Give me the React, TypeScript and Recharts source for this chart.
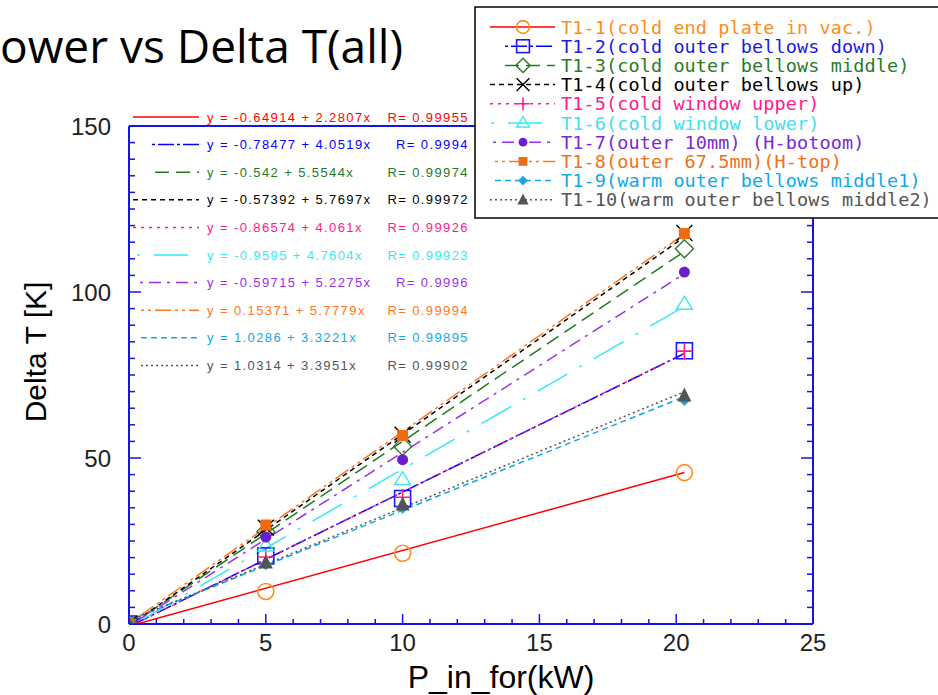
import React from "react";
import { ComposedChart, Line, Scatter, XAxis, YAxis } from "recharts";

// input power (kW) where each temperature was measured
const powerKW = [0, 5, 10, 20.3];

const seriesNames = [
  "T1-1(cold end plate in vac.)",
  "T1-2(cold outer bellows down)",
  "T1-3(cold outer bellows middle)",
  "T1-4(cold outer bellows up)",
  "T1-5(cold window upper)",
  "T1-6(cold window lower)",
  "T1-7(outer 10mm) (H-botoom)",
  "T1-8(outer 67.5mm)(H-top)",
  "T1-9(warm outer bellows middle1)",
  "T1-10(warm outer bellows middle2)",
];

// Delta T [K] per sensor, same order as powerKW
const t1_1 = [0, 9.8, 21.3, 45.6];
const t1_2 = [0, 20.5, 37.8, 82.3];
const t1_3 = [0, 27.8, 53.5, 113];
const t1_4 = [0, 29, 57, 117.8];
const t1_5 = [0, 20.2, 38.2, 82.2];
const t1_6 = [0, 23.5, 43.5, 96.3];
const t1_7 = [0, 26.2, 49.5, 106];
const t1_8 = [0, 29.8, 56.8, 117.6];
const t1_9 = [0, 18, 35, 67.5];
const t1_10 = [0, 18.5, 36, 68.8];
const seriesValues = [t1_1, t1_2, t1_3, t1_4, t1_5, t1_6, t1_7, t1_8, t1_9, t1_10];

// linear fits printed on the plot: y = a + b x
const fitIntercepts = [-0.64914, -0.78477, -0.542, -0.57392, -0.86574, -0.9595, -0.59715, 0.15371, 1.0286, 1.0314];
const fitSlopes = [2.2807, 4.0519, 5.5544, 5.7697, 4.061, 4.7604, 5.2275, 5.7779, 3.3221, 3.3951];
const fitR = ["0.99955", "0.9994", "0.99974", "0.99972", "0.99926", "0.99923", "0.9996", "0.99994", "0.99895", "0.99902"];

const xTicks = [0, 1, 2, 3, 4, 5, 6, 7, 8, 9, 10, 11, 12, 13, 14, 15, 16, 17, 18, 19, 20, 21, 22, 23, 24, 25];
const xTickLabels = [0, 5, 10, 15, 20, 25];
const yTicks = [0, 5, 10, 15, 20, 25, 30, 35, 40, 45, 50, 55, 60, 65, 70, 75, 80, 85, 90, 95, 100, 105, 110, 115, 120, 125, 130, 135, 140, 145, 150];
const yTickLabels = [0, 50, 100, 150];

type Style = { line: string; text: string; mark: string; dash?: string; kind: string; eqFrom: number; lgFrom: number };
const styles: Style[] = [
  { line: "#ff0000", text: "#ff8c1a", mark: "#ff8c1a", kind: "circle", eqFrom: 133, lgFrom: 490 },
  { line: "#0000ff", text: "#1a1ae6", mark: "#1a1aff", dash: "3 3 16 3", kind: "square", eqFrom: 152, lgFrom: 505 },
  { line: "#1e7b1e", text: "#2a7a2a", mark: "#2a7a2a", dash: "14 7", kind: "diamond", eqFrom: 155, lgFrom: 505 },
  { line: "#000000", text: "#000000", mark: "#000000", dash: "5 4", kind: "cross", eqFrom: 133, lgFrom: 490 },
  { line: "#ff1a8c", text: "#ff1a8c", mark: "#ff1a8c", dash: "3 5", kind: "plus", eqFrom: 133, lgFrom: 490 },
  { line: "#33e8f8", text: "#40e0f0", mark: "#40e6f6", dash: "3 14 34 14", kind: "triangle", eqFrom: 137, lgFrom: 491 },
  { line: "#9b30e8", text: "#7a28d8", mark: "#6a1ed0", dash: "3 6 12 6", kind: "dot", eqFrom: 140, lgFrom: 493 },
  { line: "#ff7722", text: "#f07020", mark: "#f06a10", dash: "3 4 3 4 16 4", kind: "block", eqFrom: 141, lgFrom: 495 },
  { line: "#10a8e8", text: "#10a8e8", mark: "#1aa3e8", dash: "6 4", kind: "gem", eqFrom: 141, lgFrom: 495 },
  { line: "#555555", text: "#555555", mark: "#555555", dash: "2 3", kind: "wedge", eqFrom: 141, lgFrom: 490 },
];

const AXIS = "#1414e6";
const FONT = "'Liberation Sans', Arial, sans-serif";

function Marker({ kind, color, cx, cy, s = 1 }: { kind: string; color: string; cx: number; cy: number; s?: number }) {
  const k = (v: number) => v * s;
  switch (kind) {
    case "circle":
      return <circle cx={cx} cy={cy} r={k(8)} fill="none" stroke={color} strokeWidth={1.6} />;
    case "square":
      return <rect x={cx - k(8)} y={cy - k(8)} width={k(16)} height={k(16)} fill="none" stroke={color} strokeWidth={1.6} />;
    case "diamond":
      return (
        <polygon
          points={`${cx},${cy - k(9)} ${cx + k(9)},${cy} ${cx},${cy + k(9)} ${cx - k(9)},${cy}`}
          fill="none"
          stroke={color}
          strokeWidth={1.4}
        />
      );
    case "cross":
      return (
        <path d={`M${cx - k(8)},${cy - k(8)}L${cx + k(8)},${cy + k(8)}M${cx - k(8)},${cy + k(8)}L${cx + k(8)},${cy - k(8)}`} stroke={color} strokeWidth={1.4} />
      );
    case "plus":
      return <path d={`M${cx - k(8)},${cy}L${cx + k(8)},${cy}M${cx},${cy - k(8)}L${cx},${cy + k(8)}`} stroke={color} strokeWidth={1.6} />;
    case "triangle":
      return (
        <polygon
          points={`${cx},${cy - k(8)} ${cx + k(8)},${cy + k(5)} ${cx - k(8)},${cy + k(5)}`}
          fill="none"
          stroke={color}
          strokeWidth={1.4}
        />
      );
    case "dot":
      return <circle cx={cx} cy={cy} r={k(5.5)} fill={color} />;
    case "block":
      return <rect x={cx - k(5.5)} y={cy - k(5.5)} width={k(11)} height={k(11)} fill={color} />;
    case "gem":
      return <polygon points={`${cx},${cy - k(6)} ${cx + k(6)},${cy} ${cx},${cy + k(6)} ${cx - k(6)},${cy}`} fill={color} />;
    default:
      return <polygon points={`${cx},${cy - k(8)} ${cx + k(7)},${cy + k(6)} ${cx - k(7)},${cy + k(6)}`} fill={color} />;
  }
}

const BottomTick = (props: any) => {
  const { x, y, payload } = props;
  const major = xTickLabels.includes(payload.value);
  return (
    <g>
      <line x1={x} x2={x} y1={y} y2={y - (major ? 10 : 5)} stroke={AXIS} strokeWidth={1.5} />
      {major && (
        <text x={x} y={y + 27} textAnchor="middle" fontSize={24} fontFamily={FONT} fill="#222">
          {payload.value}
        </text>
      )}
    </g>
  );
};

const TopTick = (props: any) => {
  const { x, y, payload } = props;
  const major = xTickLabels.includes(payload.value);
  return <line x1={x} x2={x} y1={y} y2={y + (major ? 10 : 5)} stroke={AXIS} strokeWidth={1.5} />;
};

const LeftTick = (props: any) => {
  const { x, y, payload } = props;
  const major = yTickLabels.includes(payload.value);
  return (
    <g>
      <line x1={x} x2={x + (major ? 12 : 6)} y1={y} y2={y} stroke={AXIS} strokeWidth={1.5} />
      {major && (
        <text x={x - 18} y={y + 8.5} textAnchor="end" fontSize={24} fontFamily={FONT} fill="#222">
          {payload.value}
        </text>
      )}
    </g>
  );
};

const RightTick = (props: any) => {
  const { x, y, payload } = props;
  const major = yTickLabels.includes(payload.value);
  return <line x1={x} x2={x - (major ? 12 : 6)} y1={y} y2={y} stroke={AXIS} strokeWidth={1.5} />;
};

export default function App() {
  const lastPower = powerKW[powerKW.length - 1];
  const points = seriesValues.map((vals) => vals.map((v, j) => ({ x: powerKW[j], y: v })));
  const fits = fitIntercepts.map((a, i) => [
    { x: powerKW[0], y: a + fitSlopes[i] * powerKW[0] },
    { x: lastPower, y: a + fitSlopes[i] * lastPower },
  ]);

  return (
    <div style={{ position: "absolute", left: 0, top: 0, width: 938, height: 695, background: "#fff", overflow: "hidden" }}>
      <ComposedChart width={938} height={695} margin={{ top: 116, right: 115, bottom: 31, left: 69 }}>
        <XAxis
          dataKey="x"
          type="number"
          domain={[0, 25]}
          ticks={xTicks}
          interval={0}
          height={40}
          tickSize={0}
          tickMargin={0}
          tick={BottomTick}
          axisLine={{ stroke: AXIS, strokeWidth: 2 }}
          allowDataOverflow
        />
        <XAxis
          xAxisId="top"
          orientation="top"
          type="number"
          domain={[0, 25]}
          ticks={xTicks}
          interval={0}
          height={10}
          tickSize={0}
          tickMargin={0}
          tick={TopTick}
          axisLine={{ stroke: AXIS, strokeWidth: 2 }}
          allowDataOverflow
        />
        <YAxis
          dataKey="y"
          type="number"
          domain={[0, 150]}
          ticks={yTicks}
          interval={0}
          width={60}
          tickSize={0}
          tickMargin={0}
          tick={LeftTick}
          axisLine={{ stroke: AXIS, strokeWidth: 2 }}
          allowDataOverflow
        />
        <YAxis
          yAxisId="right"
          orientation="right"
          type="number"
          domain={[0, 150]}
          ticks={yTicks}
          interval={0}
          width={10}
          tickSize={0}
          tickMargin={0}
          tick={RightTick}
          axisLine={{ stroke: AXIS, strokeWidth: 2 }}
          allowDataOverflow
        />
        {fits.map((fit, i) => (
          <Line
            key={`fit-${i}`}
            data={fit}
            dataKey="y"
            type="linear"
            stroke={styles[i].line}
            strokeWidth={1.5}
            strokeDasharray={styles[i].dash}
            dot={false}
            activeDot={false}
            isAnimationActive={false}
          />
        ))}
        {points.map((pts, i) => (
          <Scatter
            key={`pts-${i}`}
            data={pts}
            dataKey="y"
            isAnimationActive={false}
            shape={(p: any) => <Marker kind={styles[i].kind} color={styles[i].mark} cx={p.cx} cy={p.cy} />}
          />
        ))}
      </ComposedChart>

      <svg width={938} height={695} style={{ position: "absolute", left: 0, top: 0, pointerEvents: "none" }}>
        <text x={0} y={63} fontSize={46} fontFamily="'Open Sans', sans-serif" fill="#000" textLength={403} lengthAdjust="spacingAndGlyphs">
          ower vs Delta T(all)
        </text>

        <text x={501} y={688} textAnchor="middle" fontSize={32} fontFamily={FONT} fill="#000">
          P_in_for(kW)
        </text>
        <text transform="translate(46,352) rotate(-90)" textAnchor="middle" fontSize={30} fontFamily={FONT} fill="#000">
          Delta T [K]
        </text>

        {/* fit equations */}
        {fitIntercepts.map((a, i) => {
          const y = 117 + 27.6 * i;
          return (
            <g key={`eq-${i}`}>
              <line x1={styles[i].eqFrom} x2={199} y1={y} y2={y} stroke={styles[i].line} strokeWidth={1.5} strokeDasharray={styles[i].dash} />
              <text x={207} y={y + 4.5} fontSize={13} letterSpacing={1.4} fontFamily={FONT} fill={styles[i].line}>
                {`y = ${a} + ${fitSlopes[i]}x`}
              </text>
              <text x={469} y={y + 4.5} textAnchor="end" fontSize={13} letterSpacing={1.4} fontFamily={FONT} fill={styles[i].line}>
                {`R= ${fitR[i]}`}
              </text>
            </g>
          );
        })}

        {/* legend */}
        <rect x={475} y={7} width={480} height={211} fill="#fff" stroke="#000" strokeWidth={1.5} />
        {seriesNames.map((name, i) => {
          const y = 27 + 19.2 * i;
          return (
            <g key={`lg-${i}`}>
              <line x1={styles[i].lgFrom} x2={555} y1={y} y2={y} stroke={styles[i].line} strokeWidth={1.5} strokeDasharray={styles[i].dash} />
              <Marker kind={styles[i].kind} color={styles[i].mark} cx={523} cy={y} s={0.8} />
              <text x={561} y={y + 6.5} fontSize={18.5} letterSpacing={0.1} fontFamily="'DejaVu Sans Mono', monospace" fill={styles[i].text}>
                {name}
              </text>
            </g>
          );
        })}
      </svg>
    </div>
  );
}
